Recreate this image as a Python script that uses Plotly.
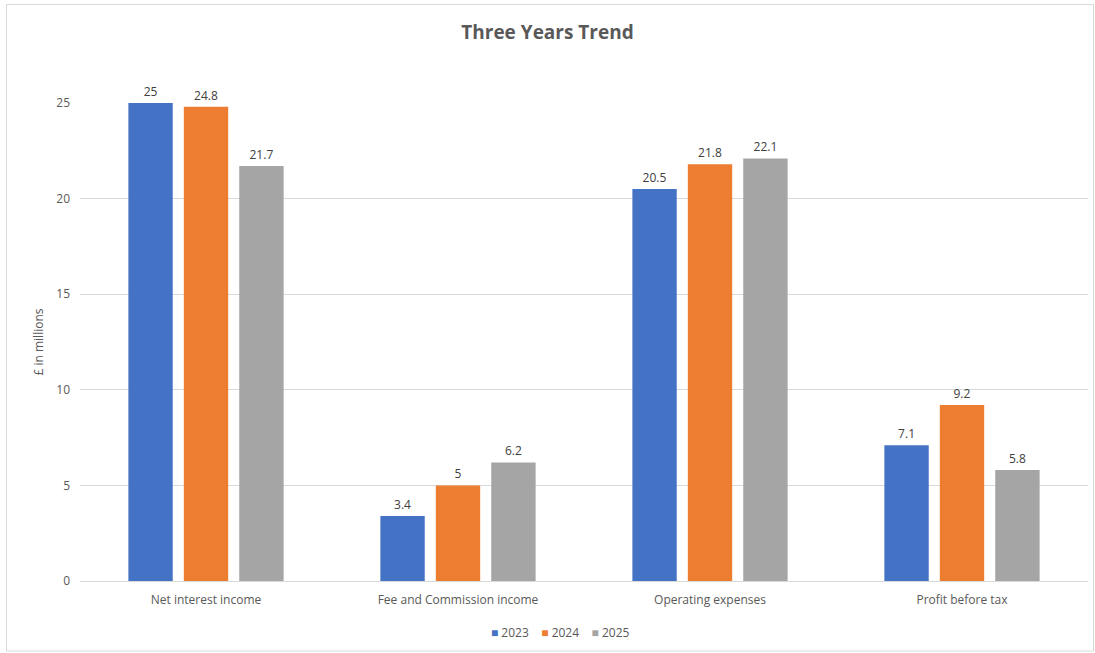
import plotly.graph_objects as go

categories = ["Net interest income", "Fee and Commission income", "Operating expenses", "Profit before tax"]
series_names = ["2023", "2024", "2025"]
values_2023 = [25, 3.4, 20.5, 7.1]
values_2024 = [24.8, 5, 21.8, 9.2]
values_2025 = [21.7, 6.2, 22.1, 5.8]
colors = ["#4472C4", "#ED7D31", "#A5A5A5"]
y_ticks = [0, 5, 10, 15, 20, 25]

fig = go.Figure()
for name, vals, col in zip(series_names, [values_2023, values_2024, values_2025], colors):
    fig.add_trace(go.Bar(
        x=categories, y=vals, name=name, marker_color=col, marker_line_width=0,
        text=[f"{v:g}" for v in vals], textposition="outside",
        textfont=dict(size=12, color="#404040"), cliponaxis=False, showlegend=False,
    ))

# compact Excel-style legend built from the series names and colours
legend_text = "&nbsp;&nbsp;&nbsp;&nbsp;".join(
    f"<span style='color:{c}'>■</span>&nbsp;{n}" for n, c in zip(series_names, colors)
)

font_family = "Open Sans, Noto Sans, Liberation Sans, sans-serif"
fig.update_layout(
    width=1095, height=653,
    margin=dict(l=80, r=7, t=103, b=72),
    paper_bgcolor="white", plot_bgcolor="white",
    font=dict(family=font_family, size=12, color="#595959"),
    title=dict(text="<b>Three Years Trend</b>", x=0.5, xanchor="center", y=1 - 32/653, yanchor="middle",
               font=dict(size=19, color="#595959")),
    barmode="group", bargap=0.34, bargroupgap=0.2,
    annotations=[dict(text=legend_text, xref="paper", yref="paper",
                      x=(560-80)/1008, y=-(632-581)/478, xanchor="center", yanchor="middle",
                      showarrow=False, font=dict(size=12, color="#595959"))],
    xaxis=dict(showline=True, linecolor="#D9D9D9", linewidth=1, ticks="", ticklabelstandoff=8,
               tickfont=dict(size=12, color="#595959")),
    yaxis=dict(range=[0, 25], tickvals=y_ticks, showgrid=True, gridcolor="#D9D9D9", gridwidth=1,
               zeroline=False, ticks="", ticklabelstandoff=9, tickfont=dict(size=12, color="#595959"),
               title=dict(text="£ in millions", font=dict(size=12, color="#595959"), standoff=10)),
    shapes=[dict(type="rect", xref="paper", yref="paper",
                 x0=(6.5-80)/1008, x1=(1093.5-80)/1008,
                 y0=-(651-581)/478, y1=(581-4.5)/478,
                 line=dict(color="#D9D9D9", width=1), fillcolor="rgba(0,0,0,0)", layer="below")],
)

fig.write_html("out.html")
